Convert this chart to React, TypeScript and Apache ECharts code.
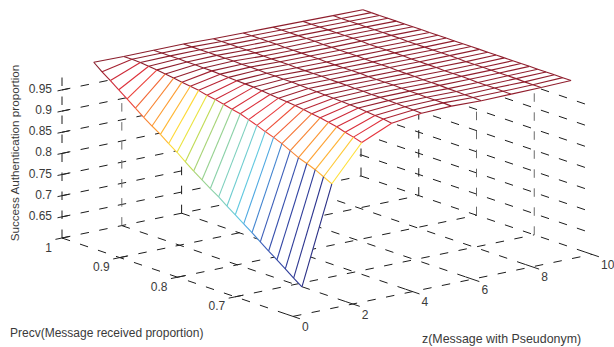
import React, { useEffect, useRef } from "react";
import * as echarts from "echarts";

const pseudonymValues = [0, 1, 2, 3, 4, 5, 6, 7, 8, 9];
const precvValues = [0.945, 0.9306, 0.9162, 0.9017, 0.8873, 0.8729, 0.8585, 0.8441, 0.8296, 0.8152, 0.8008, 0.7864, 0.772, 0.7575, 0.7431, 0.7287, 0.7143, 0.6999, 0.6854, 0.671, 0.6566, 0.6422, 0.6278, 0.6133, 0.5989, 0.5845];
const proportion0 = [1.041, 1.025, 1.011, 0.996, 0.981, 0.966, 0.951, 0.937, 0.924, 0.909, 0.895, 0.879, 0.864, 0.85, 0.836, 0.823, 0.808, 0.794, 0.779, 0.765, 0.75, 0.735, 0.721, 0.706, 0.691, 0.677];
const proportion1 = [1.04, 1.04, 1.039, 1.037, 1.035, 1.032, 1.029, 1.026, 1.023, 1.02, 1.015, 1.012, 1.007, 1.002, 0.998, 0.991, 0.984, 0.976, 0.969, 0.961, 0.951, 0.941, 0.934, 0.926, 0.916, 0.906];
const proportion2 = [1.04, 1.04, 1.04, 1.04, 1.039, 1.039, 1.038, 1.038, 1.037, 1.036, 1.035, 1.034, 1.033, 1.031, 1.029, 1.027, 1.025, 1.023, 1.02, 1.017, 1.014, 1.01, 1.006, 1.0, 0.995, 0.989];
const proportion3 = [1.04, 1.04, 1.04, 1.04, 1.04, 1.04, 1.04, 1.039, 1.039, 1.039, 1.038, 1.038, 1.037, 1.037, 1.036, 1.035, 1.034, 1.033, 1.032, 1.031, 1.03, 1.029, 1.027, 1.025, 1.023, 1.02];
const proportion4 = [1.038, 1.038, 1.038, 1.038, 1.038, 1.038, 1.037, 1.037, 1.037, 1.037, 1.036, 1.036, 1.036, 1.036, 1.035, 1.035, 1.035, 1.034, 1.034, 1.033, 1.033, 1.032, 1.032, 1.031, 1.03, 1.029];
const proportion5 = [1.037, 1.037, 1.037, 1.037, 1.037, 1.036, 1.036, 1.036, 1.036, 1.036, 1.035, 1.035, 1.035, 1.035, 1.035, 1.034, 1.034, 1.034, 1.034, 1.033, 1.033, 1.033, 1.032, 1.032, 1.032, 1.031];
const proportion6 = [1.036, 1.036, 1.036, 1.036, 1.036, 1.036, 1.035, 1.035, 1.035, 1.035, 1.035, 1.034, 1.034, 1.034, 1.034, 1.033, 1.033, 1.033, 1.032, 1.032, 1.032, 1.031, 1.031, 1.03, 1.03, 1.029];
const proportion7 = [1.035, 1.035, 1.035, 1.035, 1.035, 1.035, 1.035, 1.035, 1.034, 1.034, 1.034, 1.034, 1.034, 1.033, 1.033, 1.033, 1.033, 1.032, 1.032, 1.032, 1.032, 1.031, 1.031, 1.031, 1.03, 1.03];
const proportion8 = [1.034, 1.034, 1.034, 1.034, 1.034, 1.034, 1.034, 1.034, 1.034, 1.033, 1.033, 1.033, 1.033, 1.033, 1.033, 1.033, 1.032, 1.032, 1.032, 1.032, 1.032, 1.032, 1.032, 1.031, 1.031, 1.031];
const proportion9 = [1.033, 1.033, 1.033, 1.033, 1.033, 1.033, 1.033, 1.033, 1.033, 1.033, 1.033, 1.033, 1.033, 1.033, 1.033, 1.033, 1.033, 1.033, 1.033, 1.033, 1.033, 1.033, 1.033, 1.033, 1.033, 1.033];
const proportions = [proportion0, proportion1, proportion2, proportion3, proportion4, proportion5, proportion6, proportion7, proportion8, proportion9];

const zTicks = [0, 2, 4, 6, 8, 10];
const precvTicks = [1, 0.9, 0.8, 0.7];
const heightTicks = [0.65, 0.7, 0.75, 0.8, 0.85, 0.9, 0.95];
const heightLabels = ["0.65", "0.7", "0.75", "0.8", "0.85", "0.9", "0.95"];

const FONT = '"Liberation Sans", Arial, sans-serif';
const TEXT = "#3a3a3a";

// Muted rainbow colour map seen on the mesh, from lowest to highest value.
const colorStops: [number, number[]][] = [
  [0, [42, 47, 133]],
  [0.1, [47, 63, 158]],
  [0.2, [59, 92, 184]],
  [0.27, [72, 160, 225]],
  [0.32, [95, 200, 225]],
  [0.4, [125, 208, 190]],
  [0.5, [160, 210, 130]],
  [0.56, [195, 220, 80]],
  [0.62, [255, 232, 55]],
  [0.7, [255, 165, 50]],
  [0.78, [245, 115, 50]],
  [0.85, [232, 52, 60]],
  [0.93, [200, 40, 55]],
  [0.97, [145, 30, 45]],
  [1, [138, 30, 44]],
];

// Oblique view of the data box, as a projection into the hidden plane axes.
function project(z: number, p: number, h: number): [number, number] {
  return [
    62 + 29.9 * z + 577.5 * (1 - p),
    238 - 6.2 * z + 196 * (1 - p) - 423 * (h - 0.6),
  ];
}

function colorAt(t: number): string {
  const v = Math.max(0, Math.min(1, t));
  for (let i = 1; i < colorStops.length; i++) {
    const [t1, c1] = colorStops[i];
    if (v <= t1) {
      const [t0, c0] = colorStops[i - 1];
      const k = (v - t0) / (t1 - t0);
      const m = c0.map((c, j) => Math.round(c + (c1[j] - c) * k));
      return `rgb(${m[0]},${m[1]},${m[2]})`;
    }
  }
  return "rgb(138,30,44)";
}

type P3 = [number, number, number];
type Seg = { a: P3; b: P3; color: string };

function colorOf(h: number) {
  return colorAt((h - 0.677) / (1.041 - 0.677));
}

function buildMesh() {
  const quads: P3[][] = [];
  const lines: Seg[] = [];
  const nz = pseudonymValues.length;
  const np = precvValues.length;
  const v = (iz: number, ip: number): P3 => [pseudonymValues[iz], precvValues[ip], proportions[iz][ip]];
  for (let iz = nz - 2; iz >= 0; iz--) {
    for (let ip = 0; ip < np - 1; ip++) {
      quads.push([v(iz, ip), v(iz + 1, ip), v(iz + 1, ip + 1), v(iz, ip + 1)]);
    }
  }
  for (let iz = nz - 1; iz >= 0; iz--) {
    for (let ip = 0; ip < np; ip++) {
      const color = colorOf(proportions[iz][ip]);
      if (iz < nz - 1) lines.push({ a: v(iz, ip), b: v(iz + 1, ip), color });
      if (ip < np - 1) lines.push({ a: v(iz, ip), b: v(iz, ip + 1), color });
    }
  }
  return { quads, lines };
}

function buildGrid() {
  const dark = "#1c1c1c";
  const gray = "#6a6a6a";
  const out: Seg[] = [];
  const add = (a: P3, b: P3, color = dark) => out.push({ a, b, color });
  for (const h of heightTicks) {
    add([0, 1, h], [10, 1, h]);
    add([10, 1, h], [10, 0.6, h]);
  }
  add([0, 1, 0.6], [10, 1, 0.6]);
  add([10, 1, 0.6], [10, 0.6, 0.6]);
  add([0, 1, 0.6], [0, 0.6, 0.6]);
  add([0, 0.6, 0.6], [10, 0.6, 0.6]);
  add([0, 1, 0.6], [0, 1, 0.995]);
  for (const z of [2, 4, 6, 8]) {
    add([z, 1, 0.6], [z, 0.6, 0.6]);
    add([z, 1, 0.6], [z, 1, 0.99], z === 2 ? gray : dark);
  }
  for (const p of [0.9, 0.8, 0.7]) add([0, p, 0.6], [10, p, 0.6]);
  add([10, 1, 0.6], [10, 1, 0.99]);
  add([10, 0.9, 0.6], [10, 0.9, 0.99]);
  add([10, 0.8, 0.6], [10, 0.8, 0.99], gray);
  add([10, 0.7, 0.6], [10, 0.7, 0.99], gray);
  return out;
}

function buildTicks() {
  const out: Seg[] = [];
  const c = "#222222";
  for (const h of heightTicks) out.push({ a: [-0.15, 1, h], b: [0.24, 1, h], color: c });
  for (const p of precvTicks) out.push({ a: [-0.22, p, 0.6], b: [0.25, p, 0.6], color: c });
  for (const z of zTicks) out.push({ a: [z, 0.588, 0.6], b: [z, 0.612, 0.6], color: c });
  return out;
}

function segSeries(segs: Seg[], width: number, dash?: number[]) {
  return {
    type: "custom",
    silent: true,
    clip: false,
    data: segs.map((_, i) => [i]),
    renderItem: (params: any, api: any) => {
      const s = segs[params.dataIndex];
      const p1 = api.coord(project(...s.a));
      const p2 = api.coord(project(...s.b));
      return {
        type: "line",
        shape: { x1: p1[0], y1: p1[1], x2: p2[0], y2: p2[1] },
        style: { stroke: s.color, lineWidth: width, lineDash: dash, fill: null },
      };
    },
  };
}

type Label = { text: string; at: P3; dx: number; dy: number; align: string };

function labelSeries(labels: Label[]) {
  return {
    type: "custom",
    silent: true,
    clip: false,
    data: labels.map((_, i) => [i]),
    renderItem: (params: any, api: any) => {
      const l = labels[params.dataIndex];
      const c = api.coord(project(...l.at));
      return {
        type: "text",
        style: {
          text: l.text,
          x: c[0] + l.dx,
          y: c[1] + l.dy,
          align: l.align,
          verticalAlign: "middle",
          fontFamily: FONT,
          fontSize: 12,
          fill: TEXT,
        },
      };
    },
  };
}

export default function App() {
  const ref = useRef<HTMLDivElement>(null);
  useEffect(() => {
    const chart = echarts.init(ref.current!, undefined, { renderer: "svg" });
    const { quads, lines } = buildMesh();
    const labels: Label[] = [
      ...heightTicks.map((h, i) => ({ text: heightLabels[i], at: [0, 1, h] as P3, dx: -10, dy: -1, align: "right" })),
      ...precvTicks.map((p) => ({ text: String(p), at: [0, p, 0.6] as P3, dx: -10, dy: 9.5, align: "right" })),
      ...zTicks.map((z) => ({ text: String(z), at: [z, 0.6, 0.6] as P3, dx: 9, dy: 10.5, align: "left" })),
    ];
    chart.setOption({
      animation: false,
      backgroundColor: "#ffffff",
      grid: { left: 0, right: 0, top: 0, bottom: 0 },
      xAxis: { type: "value", min: 0, max: 614, show: false },
      yAxis: { type: "value", min: 0, max: 347, inverse: true, show: false },
      graphic: [
        { type: "text", x: 14, y: 153, rotation: Math.PI / 2, style: { text: "Success Authentication proportion", align: "center", verticalAlign: "middle", fontFamily: FONT, fontSize: 11.7, fill: TEXT } },
        { type: "text", x: 10, y: 333, style: { text: "Precv(Message received proportion)", align: "left", verticalAlign: "middle", fontFamily: FONT, fontSize: 12, fill: TEXT } },
        { type: "text", x: 422, y: 339, style: { text: "z(Message with Pseudonym)", align: "left", verticalAlign: "middle", fontFamily: FONT, fontSize: 12.4, fill: TEXT } },
      ],
      series: [
        segSeries(buildGrid(), 1, [8.5, 10.5]),
        segSeries(buildTicks(), 1),
        {
          type: "custom",
          silent: true,
          clip: false,
          data: quads.map((_, i) => [i]),
          renderItem: (params: any, api: any) => {
            const q = quads[params.dataIndex];
            return {
              type: "polygon",
              shape: { points: q.map((v) => api.coord(project(...v))) },
              style: { fill: "#ffffff", stroke: "#ffffff", lineWidth: 0.5 },
            };
          },
        },
        segSeries(lines, 1.1),
        labelSeries(labels),
      ],
    });
    return () => chart.dispose();
  }, []);
  return <div ref={ref} style={{ position: "fixed", left: 0, top: 0, width: 614, height: 347 }} />;
}
